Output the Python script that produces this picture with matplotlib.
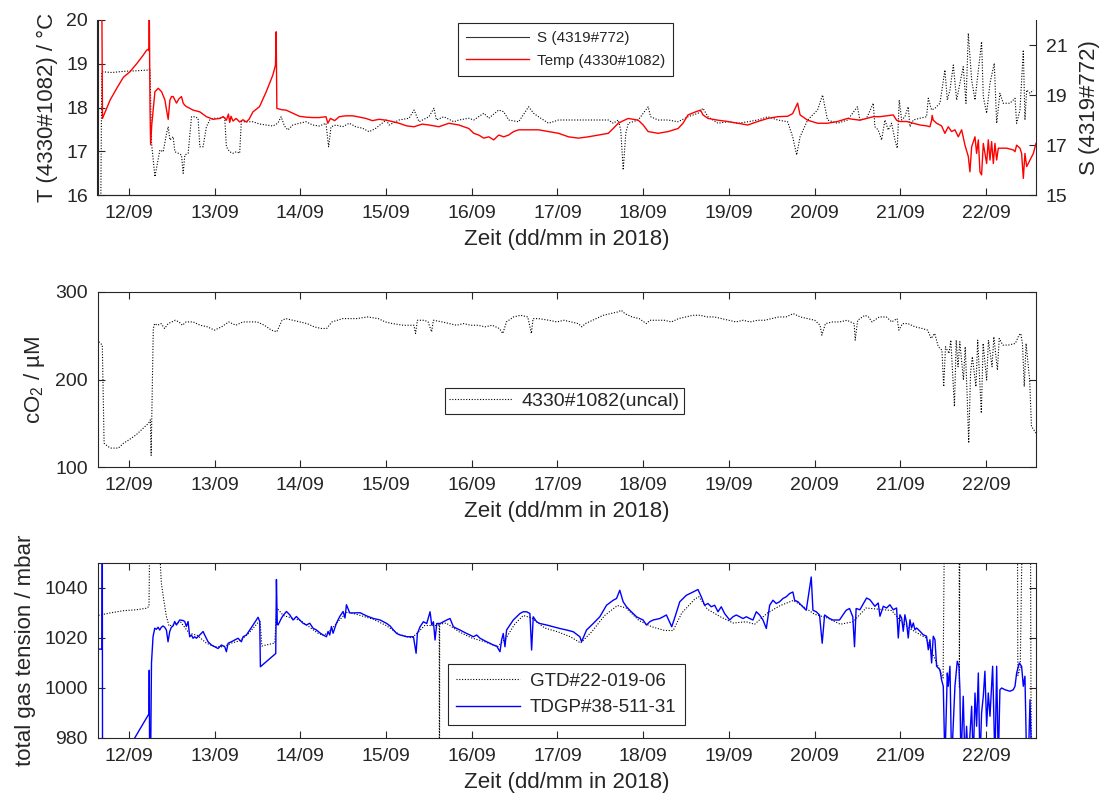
# -*- coding: utf-8 -*-
"""Drei Panels: T/S, cO2 und Gesamtgasdruck, 11.-22.09.2018."""
import numpy as np, matplotlib
matplotlib.use("Agg"); import matplotlib.pyplot as plt
import matplotlib.dates as mdates
from matplotlib.lines import Line2D

plt.rcParams["font.family"] = ["Liberation Sans", "DejaVu Sans"]
plt.rcParams["mathtext.default"] = "regular"
INK = "#262626"

# Zeit in Tagen ab 12/09/2018 00:00
temp = [(-0.318, 20.6), (-0.310, 17.75), (-0.221, 18.17), (-0.143, 18.44), (-0.066, 18.69), (0.012, 18.82),
        (0.089, 19.0), (0.167, 19.2), (0.205, 19.31), (0.225, 19.33), (0.232, 19.30), (0.236, 20.3), (0.245, 18.0),
        (0.252, 17.15), (0.265, 17.6), (0.302, 18.36), (0.341, 18.44), (0.380, 18.36), (0.419, 18.17), (0.438, 17.94),
        (0.457, 17.73), (0.477, 18.17), (0.496, 18.25), (0.515, 18.25), (0.554, 18.10), (0.583, 18.2), (0.612, 18.25),
        (0.632, 18.1), (0.651, 18.05), (0.671, 18.02), (0.709, 17.98), (0.748, 17.94), (0.826, 17.90), (0.903, 17.79),
        (0.981, 17.73), (1.058, 17.75), (1.100, 17.79), (1.136, 17.71), (1.160, 17.85), (1.175, 17.66), (1.19, 17.8),
        (1.213, 17.69), (1.25, 17.75), (1.291, 17.67), (1.33, 17.72), (1.368, 17.67), (1.40, 17.73), (1.446, 17.90),
        (1.523, 18.02), (1.601, 18.36), (1.640, 18.55), (1.678, 18.74), (1.709, 18.97), (1.717, 19.73), (1.725, 17.98),
        (1.78, 17.95), (1.833, 17.94), (1.90, 17.88), (1.988, 17.80), (2.06, 17.78), (2.143, 17.77), (2.22, 17.77),
        (2.298, 17.79), (2.32, 17.64), (2.35, 17.75), (2.40, 17.70), (2.453, 17.79), (2.53, 17.81), (2.609, 17.81),
        (2.69, 17.78), (2.764, 17.75), (2.84, 17.70), (2.919, 17.73), (3.0, 17.71), (3.07, 17.68), (3.151, 17.64),
        (3.24, 17.58), (3.326, 17.56), (3.42, 17.62), (3.5, 17.60), (3.616, 17.56), (3.733, 17.64), (3.849, 17.60),
        (3.965, 17.52), (4.023, 17.41), (4.081, 17.37), (4.140, 17.30), (4.198, 17.33), (4.256, 17.26), (4.314, 17.37),
        (4.372, 17.33), (4.430, 17.37), (4.488, 17.45), (4.547, 17.49), (4.663, 17.49), (4.779, 17.49), (4.895, 17.45),
        (5.012, 17.41), (5.128, 17.33), (5.244, 17.30), (5.360, 17.33), (5.477, 17.37), (5.593, 17.41), (5.65, 17.52),
        (5.709, 17.64), (5.77, 17.70), (5.826, 17.75), (5.942, 17.71), (6.0, 17.60), (6.058, 17.45), (6.174, 17.41),
        (6.291, 17.45), (6.407, 17.52), (6.465, 17.64), (6.523, 17.83), (6.610, 17.90), (6.669, 17.94), (6.698, 17.83),
        (6.756, 17.75), (6.872, 17.71), (6.988, 17.68), (7.105, 17.64), (7.221, 17.60), (7.337, 17.68), (7.453, 17.75),
        (7.570, 17.79), (7.686, 17.80), (7.744, 17.86), (7.802, 18.10), (7.831, 17.83), (7.919, 17.71), (8.035, 17.64),
        (8.151, 17.64), (8.267, 17.68), (8.384, 17.75), (8.45, 17.73), (8.529, 17.71), (8.607, 17.75), (8.685, 17.79),
        (8.763, 17.79), (8.840, 17.81), (8.918, 17.83), (8.957, 17.71), (8.996, 17.68), (9.074, 17.68), (9.152, 17.64),
        (9.230, 17.60), (9.307, 17.58), (9.346, 17.56), (9.366, 17.71), (9.372, 17.82), (9.385, 17.71), (9.424, 17.64),
        (9.482, 17.58), (9.521, 17.41), (9.560, 17.56), (9.599, 17.45), (9.638, 17.49), (9.677, 17.33), (9.716, 17.49),
        (9.755, 17.14), (9.794, 16.88), (9.813, 16.53), (9.833, 17.10), (9.872, 17.33), (9.891, 16.95), (9.911, 17.26),
        (9.930, 16.53), (9.949, 16.46), (9.969, 17.18), (10.008, 16.72), (10.027, 17.26), (10.047, 16.80), (10.066, 17.22),
        (10.086, 16.72), (10.105, 17.18), (10.125, 16.80), (10.144, 17.07), (10.163, 17.07), (10.241, 17.07),
        (10.319, 17.03), (10.339, 16.99), (10.358, 17.14), (10.397, 17.07), (10.416, 16.95), (10.436, 16.38),
        (10.455, 16.95), (10.475, 16.65), (10.514, 16.80), (10.553, 16.95), (10.584, 17.18)]

sal = [(-0.33, 14.5), (-0.318, 19.93), (-0.2, 19.90), (-0.05, 19.95), (0.1, 19.97), (0.225, 20.0), (0.244, 20.07),
       (0.263, 17.07), (0.302, 15.73), (0.36, 16.8), (0.399, 16.73), (0.438, 17.47), (0.457, 17.73), (0.477, 17.2),
       (0.515, 17.33), (0.535, 16.73), (0.574, 16.67), (0.612, 16.6), (0.632, 15.87), (0.651, 16.6), (0.690, 16.67),
       (0.729, 18.13), (0.767, 18.13), (0.806, 18.07), (0.826, 16.93), (0.864, 16.93), (0.903, 17.73), (0.942, 18.0),
       (0.981, 18.07), (1.058, 18.07), (1.116, 18.13), (1.136, 16.93), (1.174, 16.73), (1.213, 16.67), (1.252, 16.73),
       (1.291, 16.67), (1.31, 17.93), (1.368, 17.93), (1.446, 17.93), (1.523, 17.84), (1.601, 17.8), (1.678, 17.76),
       (1.736, 17.87), (1.775, 18.13), (1.814, 17.76), (1.853, 17.6), (1.911, 17.8), (1.988, 17.87), (2.066, 17.93),
       (2.143, 17.8), (2.221, 17.76), (2.298, 17.87), (2.329, 16.93), (2.357, 17.73), (2.415, 17.8), (2.492, 17.73),
       (2.570, 17.87), (2.647, 17.73), (2.725, 17.67), (2.802, 17.53), (2.880, 17.67), (3.0, 18.0), (3.035, 17.8),
       (3.151, 18.0), (3.267, 18.07), (3.326, 18.4), (3.384, 17.93), (3.5, 18.13), (3.558, 18.47), (3.587, 18.0),
       (3.674, 18.13), (3.791, 17.93), (3.849, 18.0), (3.965, 18.07), (4.023, 18.0), (4.140, 18.27), (4.198, 18.07),
       (4.314, 18.4), (4.372, 18.33), (4.430, 18.0), (4.547, 17.93), (4.663, 18.53), (4.721, 18.27), (4.779, 18.13),
       (4.895, 17.87), (5.012, 18.0), (5.128, 18.0), (5.3, 18.0), (5.45, 18.0), (5.593, 18.0), (5.651, 17.87),
       (5.709, 18.0), (5.738, 17.6), (5.767, 16.0), (5.797, 17.47), (5.826, 17.87), (5.942, 18.0), (6.029, 18.4),
       (6.058, 18.53), (6.087, 18.13), (6.174, 18.0), (6.291, 18.0), (6.407, 17.93), (6.523, 18.13), (6.640, 18.27),
       (6.698, 18.47), (6.756, 18.13), (6.872, 17.87), (6.988, 17.93), (7.105, 17.87), (7.221, 17.93), (7.337, 18.0),
       (7.453, 18.13), (7.570, 18.0), (7.686, 17.93), (7.744, 17.33), (7.791, 16.6), (7.831, 17.33), (7.919, 18.0),
       (8.035, 18.4), (8.093, 19.0), (8.151, 18.0), (8.267, 17.87), (8.384, 18.0), (8.5, 18.53), (8.529, 18.0),
       (8.607, 18.07), (8.685, 18.67), (8.704, 17.73), (8.743, 17.6), (8.782, 17.2), (8.821, 18.0), (8.860, 17.6),
       (8.899, 17.87), (8.938, 17.2), (8.965, 16.87), (8.988, 18.8), (9.016, 18.0), (9.054, 18.13), (9.093, 18.53),
       (9.113, 17.73), (9.152, 18.0), (9.230, 18.07), (9.307, 18.13), (9.327, 18.87), (9.366, 18.4), (9.405, 18.47),
       (9.463, 18.67), (9.521, 20.0), (9.549, 18.8), (9.580, 19.2), (9.619, 20.2), (9.658, 18.8), (9.696, 19.47),
       (9.735, 20.13), (9.767, 18.67), (9.794, 21.47), (9.833, 19.6), (9.872, 18.8), (9.911, 20.0), (9.949, 21.13),
       (9.969, 18.93), (10.008, 18.27), (10.047, 19.47), (10.097, 20.27), (10.125, 17.87), (10.163, 19.07),
       (10.202, 18.67), (10.280, 18.67), (10.339, 18.87), (10.358, 17.87), (10.397, 18.4), (10.436, 20.8),
       (10.455, 18.0), (10.475, 19.2), (10.514, 19.07), (10.553, 19.2)]

co2 = [(-0.353, 243.1), (-0.312, 239.3), (-0.291, 127.3), (-0.249, 123.5), (-0.208, 121.6), (-0.125, 121.6),
       (-0.062, 127.3), (0.0, 131.1), (0.083, 136.8), (0.166, 144.4), (0.228, 150.1), (0.249, 153.9), (0.258, 113.3),
       (0.283, 258.3), (0.299, 263.9), (0.332, 262.0), (0.374, 263.9), (0.415, 258.3), (0.457, 263.9), (0.540, 267.7),
       (0.582, 265.8), (0.623, 262.0), (0.665, 265.8), (0.748, 265.8), (0.831, 262.0), (0.914, 260.2), (0.997, 256.4),
       (1.080, 260.2), (1.163, 265.8), (1.246, 262.0), (1.329, 265.8), (1.413, 265.8), (1.496, 265.8), (1.579, 262.0),
       (1.662, 256.4), (1.724, 254.5), (1.786, 267.7), (1.828, 269.6), (1.911, 267.7), (1.994, 265.8), (2.077, 263.9),
       (2.160, 260.2), (2.243, 258.3), (2.306, 258.3), (2.368, 265.8), (2.493, 269.6), (2.659, 269.6), (2.784, 271.5),
       (2.908, 269.6), (2.991, 265.8), (3.074, 263.9), (3.199, 262.0), (3.324, 262.0), (3.344, 252.6), (3.365, 267.7),
       (3.448, 267.7), (3.490, 265.8), (3.531, 254.5), (3.552, 267.7), (3.656, 265.8), (3.739, 263.9), (3.822, 262.0),
       (3.905, 263.9), (3.988, 262.0), (4.071, 262.0), (4.155, 260.2), (4.238, 262.0), (4.321, 258.3), (4.362, 252.6),
       (4.404, 265.8), (4.487, 271.5), (4.570, 273.4), (4.653, 271.5), (4.695, 252.6), (4.715, 269.6), (4.778, 269.6),
       (4.902, 267.7), (4.992, 265.8), (5.075, 267.7), (5.159, 265.8), (5.242, 263.9), (5.284, 260.2), (5.326, 263.9),
       (5.410, 267.7), (5.493, 271.5), (5.535, 273.4), (5.619, 275.3), (5.702, 277.2), (5.744, 279.1), (5.786, 275.3),
       (5.870, 271.5), (5.953, 269.6), (6.037, 263.9), (6.079, 267.7), (6.162, 267.7), (6.246, 267.7), (6.329, 265.8),
       (6.413, 269.6), (6.497, 271.5), (6.580, 273.4), (6.664, 273.4), (6.747, 271.5), (6.831, 271.5), (6.915, 269.6),
       (6.998, 267.7), (7.082, 265.8), (7.166, 267.7), (7.249, 265.8), (7.333, 267.7), (7.416, 267.7), (7.500, 269.6),
       (7.584, 271.5), (7.667, 271.5), (7.751, 275.3), (7.834, 271.5), (7.918, 269.6), (8.002, 267.7), (8.064, 262.0),
       (8.085, 250.7), (8.127, 263.9), (8.211, 265.8), (8.294, 265.8), (8.378, 267.7), (8.462, 263.9), (8.474, 245.0),
       (8.503, 267.7), (8.587, 273.4), (8.629, 271.5), (8.671, 265.8), (8.754, 271.5), (8.838, 271.5), (8.900, 265.8),
       (8.963, 269.6), (8.984, 256.4), (9.026, 263.9), (9.089, 263.9), (9.172, 260.2), (9.256, 258.3), (9.319, 256.4),
       (9.360, 246.9), (9.402, 252.6), (9.444, 237.4), (9.486, 233.6), (9.507, 191.8), (9.528, 237.4), (9.569, 229.8),
       (9.590, 245.0), (9.632, 169.1), (9.653, 245.0), (9.674, 214.6), (9.695, 243.1), (9.737, 199.4), (9.758, 237.4),
       (9.778, 188.0), (9.799, 127.3), (9.820, 207.0), (9.841, 226.0), (9.883, 191.8), (9.904, 245.0), (9.946, 161.5),
       (9.967, 241.2), (10.008, 199.4), (10.029, 245.0), (10.071, 214.6), (10.092, 248.8), (10.134, 210.8),
       (10.155, 246.9), (10.197, 239.3), (10.259, 239.3), (10.343, 241.2), (10.385, 250.7), (10.406, 252.6),
       (10.426, 241.2), (10.447, 191.8), (10.468, 241.2), (10.510, 199.4), (10.531, 146.3), (10.585, 138.7)]

gtd = [(-0.365, 1060), (-0.36, 1029.0), (-0.226, 1030.0), (-0.07, 1030.9), (0.086, 1031.3), (0.2, 1031.9),
       (0.233, 1032.6), (0.241, 1060), (0.35, 1060), (0.377, 1042), (0.405, 1035.3), (0.436, 1028.6), (0.467, 1024.8),
       (0.533, 1025.5), (0.6, 1026.5), (0.7, 1022), (0.8, 1021), (0.9, 1018), (1.0, 1016.5), (1.1, 1016.5),
       (1.2, 1018), (1.3, 1019), (1.4, 1022), (1.5, 1026), (1.53, 1026.5), (1.55, 1016.8), (1.70, 1018.0),
       (1.725, 1032), (1.8, 1029), (1.9, 1028), (2.0, 1027), (2.1, 1024.5), (2.2, 1022), (2.27, 1021), (2.35, 1023),
       (2.45, 1027), (2.55, 1030.5), (2.7, 1029), (2.85, 1027.5), (3.0, 1025), (3.15, 1021.5), (3.3, 1020),
       (3.38, 1022.5), (3.45, 1025), (3.6, 1025), (3.62, 1025.5), (3.622, 900), (3.625, 1025.5), (3.7, 1026),
       (3.85, 1022.5), (4.0, 1020), (4.15, 1018.5), (4.3, 1016.5), (4.4, 1020), (4.5, 1025.5), (4.6, 1029),
       (4.7, 1028), (4.85, 1024), (5.0, 1022.5), (5.15, 1020.5), (5.27, 1018), (5.4, 1022.5), (5.55, 1029),
       (5.7, 1033), (5.8, 1032), (5.95, 1027), (6.1, 1024.5), (6.25, 1023), (6.35, 1023), (6.45, 1030),
       (6.6, 1035.5), (6.65, 1036.5), (6.75, 1031.5), (6.9, 1028.5), (7.05, 1026), (7.2, 1026.5), (7.3, 1025.5),
       (7.45, 1030), (7.6, 1033), (7.75, 1035), (7.85, 1033), (8.0, 1029.5), (8.15, 1028), (8.3, 1025.5),
       (8.45, 1026.5), (8.6, 1032), (8.75, 1031.5), (8.9, 1031), (9.0, 1027), (9.1, 1024), (9.2, 1022), (9.3, 1020),
       (9.4, 1012), (9.5, 1004), (9.514, 1060), (9.687, 1060), (9.69, 1000), (9.695, 1060), (10.368, 1060),
       (10.372, 1005), (10.40, 1008), (10.422, 1060), (10.52, 1060), (10.525, 1000), (10.535, 960)]

tdgp = [(-0.365, 1015.5), (-0.315, 1015.6), (-0.312, 1060), (-0.309, 960), (0.066, 980), (0.233, 989.7),
        (0.236, 1007.1), (0.240, 975), (0.253, 975), (0.262, 1010), (0.280, 1020.5), (0.300, 1023.9), (0.319, 1023.5),
        (0.339, 1024.3), (0.358, 1023.2), (0.377, 1024.3), (0.397, 1024.8), (0.416, 1024.3), (0.436, 1023.2),
        (0.455, 1018.5), (0.475, 1022.6), (0.494, 1024.3), (0.514, 1024.8), (0.533, 1026.6), (0.553, 1025.2),
        (0.572, 1026.2), (0.591, 1027.2), (0.630, 1027.0), (0.650, 1026.6), (0.669, 1024.6), (0.689, 1026.6),
        (0.708, 1020.5), (0.728, 1021.2), (0.747, 1019.9), (0.767, 1020.5), (0.786, 1019.9), (0.825, 1021.2),
        (0.864, 1022.6), (0.883, 1021.2), (0.922, 1018.5), (0.961, 1017.2), (1.0, 1016.5), (1.039, 1015.8),
        (1.078, 1017.2), (1.117, 1016.5), (1.136, 1014.5), (1.156, 1017.9), (1.195, 1018.5), (1.233, 1019.2),
        (1.272, 1019.9), (1.311, 1018.5), (1.331, 1020.5), (1.370, 1021.2), (1.409, 1023.2), (1.447, 1025.2),
        (1.486, 1027.2), (1.506, 1028.3), (1.525, 1026.6), (1.533, 1008.5), (1.712, 1013.8), (1.720, 1043.4),
        (1.730, 1025.5), (1.739, 1025.2), (1.778, 1027.9), (1.798, 1029.0), (1.837, 1030.6), (1.875, 1029.3),
        (1.914, 1027.2), (1.953, 1028.6), (1.992, 1027.2), (2.031, 1025.9), (2.070, 1025.2), (2.109, 1025.9),
        (2.148, 1023.9), (2.187, 1023.2), (2.226, 1022.1), (2.265, 1021.2), (2.304, 1020.5), (2.323, 1022.6),
        (2.342, 1021.2), (2.362, 1024.6), (2.381, 1021.9), (2.420, 1025.9), (2.459, 1028.6), (2.498, 1030.6),
        (2.520, 1028.0), (2.537, 1033.3), (2.576, 1030.0), (2.697, 1030.1), (2.775, 1028.8), (2.852, 1027.8),
        (2.930, 1027.2), (3.008, 1025.8), (3.047, 1024.8), (3.085, 1023.2), (3.124, 1021.8), (3.163, 1021.2),
        (3.241, 1020.5), (3.319, 1020.5), (3.350, 1013.9), (3.365, 1021.8), (3.396, 1024.5), (3.435, 1026.5),
        (3.474, 1025.8), (3.513, 1030.5), (3.532, 1025.2), (3.552, 1026.5), (3.571, 1019.2), (3.591, 1025.8),
        (3.629, 1025.8), (3.668, 1026.5), (3.707, 1027.2), (3.746, 1027.8), (3.785, 1024.5), (3.824, 1023.8),
        (3.862, 1023.2), (3.901, 1022.5), (3.940, 1021.8), (3.979, 1021.2), (4.018, 1020.5), (4.057, 1021.2),
        (4.096, 1019.9), (4.135, 1019.2), (4.173, 1018.5), (4.212, 1017.9), (4.251, 1017.2), (4.290, 1016.8),
        (4.329, 1014.5), (4.348, 1019.2), (4.367, 1021.8), (4.387, 1016.5), (4.406, 1023.2), (4.445, 1025.2),
        (4.484, 1027.2), (4.523, 1028.5), (4.562, 1029.8), (4.600, 1030.5), (4.639, 1030.5), (4.678, 1029.8),
        (4.698, 1015.2), (4.717, 1028.5), (4.756, 1026.5), (4.795, 1025.8), (4.873, 1025.2), (4.950, 1024.5),
        (5.028, 1023.8), (5.106, 1023.2), (5.184, 1022.5), (5.261, 1020.5), (5.281, 1018.5), (5.339, 1023.2),
        (5.417, 1025.8), (5.494, 1028.5), (5.572, 1033.1), (5.650, 1035.1), (5.689, 1035.8), (5.727, 1039.1),
        (5.766, 1034.5), (5.805, 1032.5), (5.844, 1031.1), (5.883, 1029.8), (5.922, 1028.5), (5.961, 1027.8),
        (5.999, 1027.2), (6.038, 1025.2), (6.077, 1026.5), (6.116, 1027.2), (6.194, 1027.8), (6.271, 1029.2),
        (6.333, 1024.5), (6.372, 1028.5), (6.427, 1034.5), (6.504, 1037.1), (6.582, 1038.4), (6.639, 1039.4),
        (6.678, 1036.5), (6.717, 1033.1), (6.756, 1033.8), (6.794, 1032.5), (6.834, 1033.1), (6.873, 1030.5),
        (6.911, 1032.5), (6.950, 1029.8), (7.009, 1027.2), (7.048, 1028.5), (7.087, 1029.2), (7.126, 1028.5),
        (7.165, 1027.8), (7.204, 1028.5), (7.242, 1027.8), (7.281, 1027.2), (7.320, 1030.5), (7.359, 1029.2),
        (7.398, 1027.2), (7.437, 1023.8), (7.476, 1033.1), (7.514, 1035.1), (7.553, 1033.8), (7.592, 1034.5),
        (7.631, 1035.8), (7.670, 1036.5), (7.709, 1037.8), (7.747, 1038.4), (7.767, 1035.1), (7.806, 1034.5),
        (7.845, 1033.1), (7.903, 1031.1), (7.961, 1044.4), (7.981, 1031.1), (8.019, 1030.5), (8.058, 1029.2),
        (8.089, 1017.9), (8.117, 1029.2), (8.175, 1027.8), (8.213, 1027.2), (8.291, 1027.2), (8.330, 1029.2),
        (8.369, 1031.1), (8.408, 1031.8), (8.446, 1028.5), (8.466, 1016.5), (8.485, 1031.8), (8.529, 1031.3),
        (8.607, 1036.0), (8.646, 1035.3), (8.704, 1032.7), (8.743, 1034.0), (8.763, 1028.7), (8.802, 1032.7),
        (8.840, 1032.0), (8.879, 1033.3), (8.918, 1031.3), (8.957, 1032.0), (8.977, 1020.0), (8.996, 1029.3),
        (9.016, 1028.0), (9.035, 1022.7), (9.054, 1029.3), (9.074, 1026.0), (9.093, 1020.0), (9.113, 1027.3),
        (9.132, 1024.0), (9.152, 1026.0), (9.171, 1023.3), (9.191, 1024.0), (9.230, 1022.7), (9.268, 1021.3),
        (9.307, 1020.7), (9.327, 1015.3), (9.346, 1019.3), (9.366, 1010.0), (9.385, 1020.7), (9.405, 1019.3),
        (9.424, 1008.7), (9.463, 1007.3), (9.482, 1003.3), (9.502, 1000.7), (9.521, 970), (9.549, 1006.0),
        (9.560, 1000.7), (9.580, 1008.7), (9.599, 970), (9.638, 1000.7), (9.665, 1010.7), (9.685, 1008.7),
        (9.696, 999.3), (9.708, 970), (9.735, 996.7), (9.755, 970), (9.774, 984.7), (9.794, 970), (9.833, 992.7),
        (9.852, 970), (9.872, 998.0), (9.891, 984.7), (9.911, 1006.0), (9.930, 970), (9.949, 990.0), (9.969, 996.7),
        (9.988, 1006.7), (10.008, 984.7), (10.027, 998.0), (10.047, 988.7), (10.078, 1008.7), (10.105, 970),
        (10.125, 1008.7), (10.144, 970), (10.163, 999.3), (10.183, 1000.0), (10.222, 999.3), (10.280, 998.7),
        (10.319, 999.3), (10.339, 1000.7), (10.358, 1006.0), (10.389, 1010.0), (10.416, 1008.7), (10.436, 1000.7),
        (10.455, 1004.7), (10.475, 970), (10.494, 970), (10.514, 995.3), (10.533, 970)]

T0 = np.datetime64("2018-09-12T00:00")
def series(pairs):
    a = np.array(pairs, dtype=float)
    return T0 + (a[:, 0] * 86400).astype("timedelta64[s]"), a[:, 1]

XLIM = (T0 + np.timedelta64(int(-0.368 * 86400), "s"), T0 + np.timedelta64(int(10.584 * 86400), "s"))
W, H = 1111, 807
def box(l, t, r, b):
    return [l / W, 1 - b / H, (r - l) / W, (b - t) / H]

def style(ax, full=True):
    for s in ax.spines.values():
        s.set_color(INK); s.set_linewidth(0.8)
    ax.tick_params(direction="in", length=5, width=0.8, colors=INK, labelsize=14, pad=7,
                   top=full, right=full)
    ax.xaxis.set_major_locator(mdates.DayLocator())
    ax.xaxis.set_major_formatter(mdates.DateFormatter("%d/%m"))
    ax.set_xlim(*XLIM)
    ax.set_xlabel("Zeit (dd/mm in 2018)", fontsize=16, color=INK, labelpad=5)

def legend(ax, handles, labels, x, y, fs, hl, ls, bp):
    lg = ax.legend(handles, labels, loc="upper left", bbox_to_anchor=(x / W, 1 - y / H),
                   bbox_transform=fig.transFigure, borderaxespad=0, fontsize=fs, fancybox=False,
                   framealpha=1, edgecolor=INK, handlelength=hl, handletextpad=0.5, labelspacing=ls,
                   borderpad=bp)
    lg.get_frame().set_linewidth(0.8)
    for t in lg.get_texts():
        t.set_color(INK)

fig = plt.figure(figsize=(W / 100, H / 100), dpi=100)

# --- T / S ---
ax1 = fig.add_axes(box(97.5, 20, 1036, 195))
axr = ax1.twinx()
style(ax1, full=False)
ax1.spines["top"].set_visible(False); ax1.spines["right"].set_visible(False)
axr.spines["top"].set_visible(False)
for s in axr.spines.values():
    s.set_color(INK); s.set_linewidth(0.8)
axr.tick_params(direction="in", length=5, width=0.8, colors=INK, labelsize=14, pad=7)
ts, vs = series(sal)
axr.plot(ts, vs, color="k", lw=0.8, ls=(0, (1, 1.5)))
axr.set_ylim(15, 22); axr.set_yticks([15, 17, 19, 21])
axr.set_ylabel("S (4319#772)", fontsize=16, color=INK, labelpad=8)
tt, vt = series(temp)
ax1.plot(tt, vt, color="#ff0000", lw=1.0)
ax1.set_ylim(16, 20); ax1.set_yticks([16, 17, 18, 19, 20])
ax1.set_ylabel("T (4330#1082) / °C", fontsize=16, color=INK, labelpad=6)
ax1.set_zorder(axr.get_zorder() + 1); ax1.patch.set_visible(False)
legend(ax1, [Line2D([], [], color="#333333", lw=0.8), Line2D([], [], color="#ff0000", lw=1.0)],
       ["S (4319#772)", "Temp (4330#1082)"], 458, 23, 11, 4.1, 0.55, 0.55)

# --- cO2 ---
ax2 = fig.add_axes(box(97.5, 292, 1036, 467))
style(ax2)
tc, vc = series(co2)
l_c, = ax2.plot(tc, vc, color="k", lw=0.8, ls=(0, (1, 1.5)))
ax2.set_ylim(100, 300); ax2.set_yticks([100, 200, 300])
ax2.set_ylabel("cO$_2$ / µM", fontsize=16, color=INK, labelpad=6)
legend(ax2, [l_c], ["4330#1082(uncal)"], 445, 388, 14, 3.2, 0.3, 0.22)

# --- Gesamtgasdruck ---
ax3 = fig.add_axes(box(97.5, 563, 1036, 738))
style(ax3)
tg, vg = series(gtd)
l_g, = ax3.plot(tg, vg, color="k", lw=0.8, ls=(0, (1, 1.5)))
tp, vp = series(tdgp)
l_p, = ax3.plot(tp, vp, color="#0000ff", lw=1.0)
ax3.set_ylim(980, 1050); ax3.set_yticks([980, 1000, 1020, 1040])
ax3.set_ylabel("total gas tension / mbar", fontsize=16, color=INK, labelpad=6)
legend(ax3, [l_g, l_p], ["GTD#22-019-06", "TDGP#38-511-31"], 448, 664, 13.5, 3.4, 0.5, 0.45)

fig.savefig("out.png", dpi=100)
print("[OK] out.png")
